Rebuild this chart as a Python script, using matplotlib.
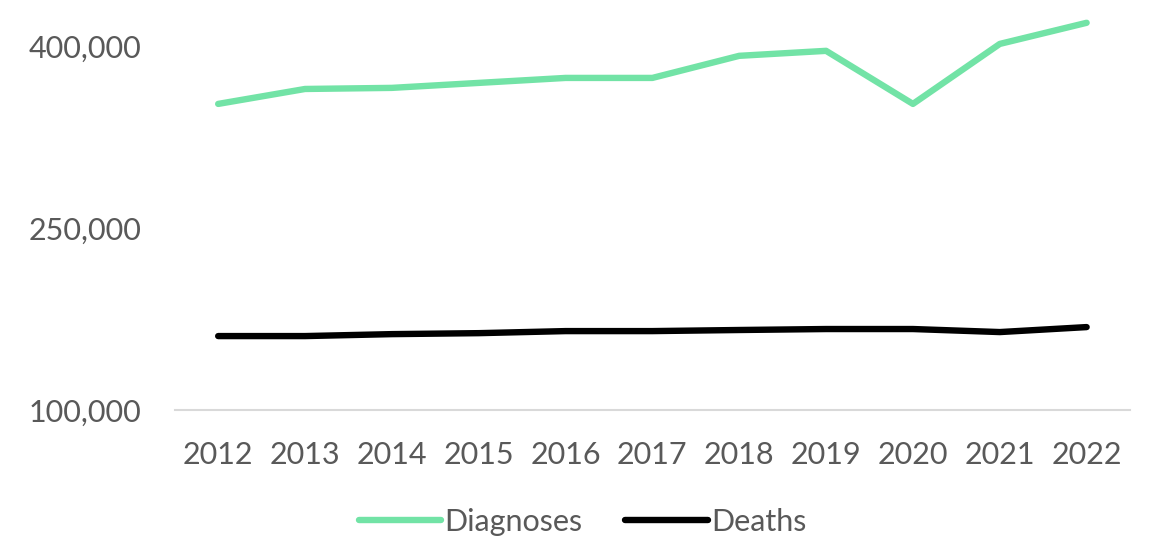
import numpy as np
import matplotlib.pyplot as plt
from matplotlib.ticker import FuncFormatter

years = ['2012', '2013', '2014', '2015', '2016', '2017',
         '2018', '2019', '2020', '2021', '2022']
diagnoses = [352200, 364500, 365400, 369500, 373600, 373600,
             391800, 395900, 352200, 401600, 419000]
deaths = [161000, 161000, 162600, 163400, 165100, 165100,
          166000, 166800, 166800, 164300, 168400]

plt.rcParams['font.family'] = ['Lato', 'DejaVu Sans']
grey = '#595959'

fig = plt.figure(figsize=(11.65, 5.55), dpi=100)
ax = fig.add_axes([0.150, 0.261, 0.820, 0.722])

x = np.arange(len(years))
ax.plot(x, diagnoses, color='#72e3a6', lw=4.6, solid_capstyle='round',
        solid_joinstyle='round', label='Diagnoses')
ax.plot(x, deaths, color='black', lw=4.6, solid_capstyle='round',
        solid_joinstyle='round', label='Deaths')

ax.set_xlim(-0.5, len(years) - 0.5)
ax.set_ylim(100000, 430000)
ax.set_yticks([100000, 250000, 400000])
ax.yaxis.set_major_formatter(FuncFormatter(lambda v, p: f'{int(v):,}'))
ax.set_xticks(x)
ax.set_xticklabels(years)

for s in ['top', 'right', 'left']:
    ax.spines[s].set_visible(False)
ax.spines['bottom'].set_color('#d9d9d9')
ax.spines['bottom'].set_linewidth(1.5)
ax.tick_params(axis='both', length=0, labelsize=22, labelcolor=grey)
ax.tick_params(axis='x', pad=22)
ax.tick_params(axis='y', pad=24)

leg = fig.legend(loc='center', bbox_to_anchor=(0.5, 0.06), ncol=2, frameon=False,
                 fontsize=22, handlelength=2.7, handletextpad=0.1, columnspacing=1.4)
for t in leg.get_texts():
    t.set_color(grey)

fig.savefig('out.png', dpi=100)
